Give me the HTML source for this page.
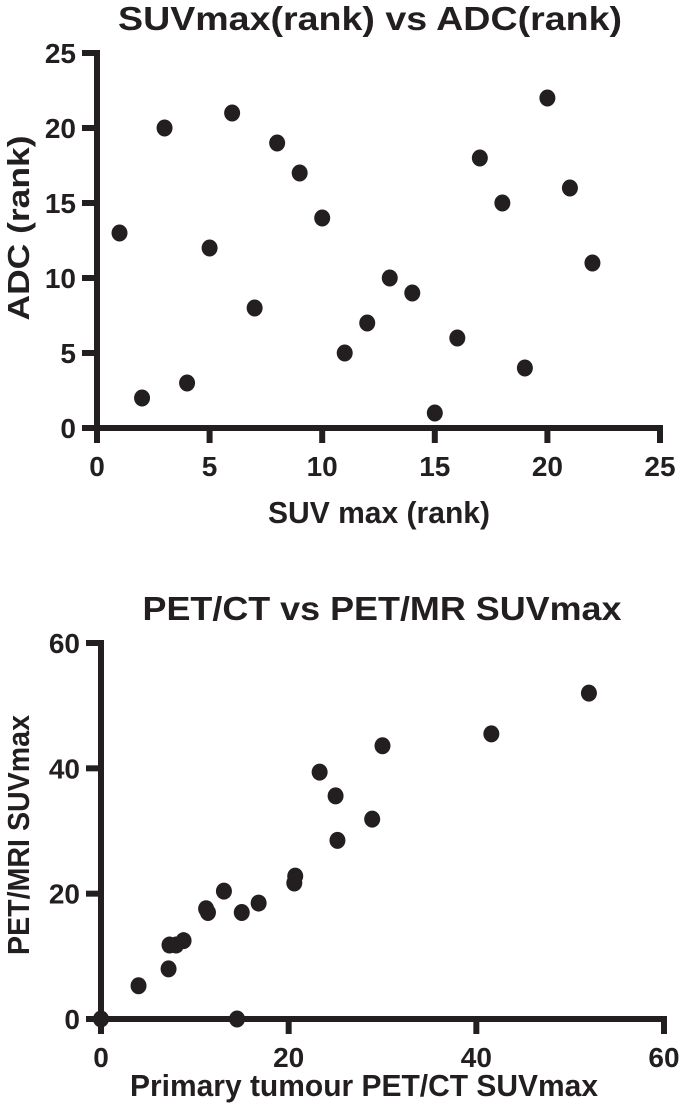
<!DOCTYPE html>
<html><head><meta charset="utf-8"><style>
html,body{margin:0;padding:0;background:#fff;}
svg{display:block;font-family:"Liberation Sans",Arial,sans-serif;font-weight:bold;fill:#231f20;}
</style></head><body>
<svg id="c" width="685" height="1109" viewBox="0 0 685 1109" xmlns="http://www.w3.org/2000/svg"></svg>
<script>
const rankX=[1,2,3,4,5,6,7,8,9,10,11,12,13,14,15,16,17,18,19,20,21,22];
const rankY=[13,2,20,3,12,21,8,19,17,14,5,7,10,9,1,6,18,15,4,22,16,11];
const rankXTicks=[0,5,10,15,20,25];
const rankYTicks=[0,5,10,15,20,25];
const petCT=[0,4,7.2,7.3,8,8.8,11.2,11.4,13.1,15,16.8,20.6,20.7,23.3,25,25.2,28.9,30,41.6,52,14.5];
const petMR=[0,5.3,8,11.8,11.8,12.5,17.6,17,20.4,17,18.5,21.7,22.8,39.4,35.6,28.5,31.9,43.6,45.5,52,0];
const petXTicks=[0,20,40,60];
const petYTicks=[0,20,40,60];

const svg=document.getElementById('c');
const NS='http://www.w3.org/2000/svg';
function mk(tag,attrs,parent){const e=document.createElementNS(NS,tag);for(const k in attrs)e.setAttribute(k,attrs[k]);(parent||svg).appendChild(e);return e;}
function txt(s,x,y,size,anchor,parent,rot,len){const t=mk('text',{x:x,y:y,'font-size':size,'text-anchor':anchor||'middle'},parent);if(rot)t.setAttribute('transform',rot);if(len){t.setAttribute('textLength',len);t.setAttribute('lengthAdjust','spacingAndGlyphs');}t.textContent=s;return t;}

function chart(o){
  const g=mk('g',{});
  
  
  const sx=v=>o.x0+(v-o.xmin)/(o.xmax-o.xmin)*(o.x1-o.x0);
  const sy=v=>o.y0-(v-o.ymin)/(o.ymax-o.ymin)*(o.y0-o.y1);
  const t=txt(o.title,o.tcx,o.ty,33,'middle',g,null,o.tlen);
  
  
  const ya=mk('line',{x1:o.x0,y1:o.y1-3,x2:o.x0,y2:o.y0+3,stroke:'#231f20','stroke-width':6},g);
  
  
  const xa=mk('line',{x1:o.x0-14,y1:o.y0,x2:o.x1+3,y2:o.y0,stroke:'#231f20','stroke-width':6},g);
  
  
  o.xt.forEach(v=>{
    const l=mk('line',{x1:sx(v),y1:o.y0,x2:sx(v),y2:o.y0+15,stroke:'#231f20','stroke-width':6},g);
    
    
    const s=txt(String(v),sx(v),o.y0+48,28,'middle',g);
    
    
  });
  o.yt.forEach(v=>{
    const l=mk('line',{x1:o.x0-15,y1:sy(v),x2:o.x0,y2:sy(v),stroke:'#231f20','stroke-width':6},g);
    
    
    const s=txt(String(v),o.x0-21,sy(v)+10,28,'end',g);
    
    
  });
  const xt=txt(o.xl,o.xlcx,o.xly,31,'middle',g,null,o.xllen);
  
  
  const yc=o.ylcy;
  const yt=txt(o.yl,o.ylx,yc,31,'middle',g,'rotate(-90 '+o.ylx+' '+yc+')',o.yllen);
  
  
  o.xs.forEach((v,i)=>{
    const c=mk('ellipse',{cx:sx(v),cy:sy(o.ys[i]),rx:8,ry:8.5,fill:'#231f20'},g);
    
    
  });
}
chart({name:'suv-vs-adc-rank-chart',title:'SUVmax(rank) vs ADC(rank)',tcx:370,ty:30,tlen:504,x0:97,x1:660,y0:428,y1:53,xmin:0,xmax:25,ymin:0,ymax:25,
  xt:rankXTicks,yt:rankYTicks,xs:rankX,ys:rankY,xl:'SUV max (rank)',xlcx:379,xly:523,xllen:222,yl:'ADC (rank)',ylx:29,ylcy:228,yllen:185});
chart({name:'petct-vs-petmr-chart',title:'PET/CT vs PET/MR SUVmax',tcx:382,ty:620,tlen:479,x0:101,x1:664,y0:1019,y1:643,xmin:0,xmax:60,ymin:0,ymax:60,
  xt:petXTicks,yt:petYTicks,xs:petCT,ys:petMR,xl:'Primary tumour PET/CT SUVmax',xlcx:364,xly:1096,xllen:468,yl:'PET/MRI SUVmax',ylx:29,ylcy:835,yllen:240});
</script>
</body></html>
